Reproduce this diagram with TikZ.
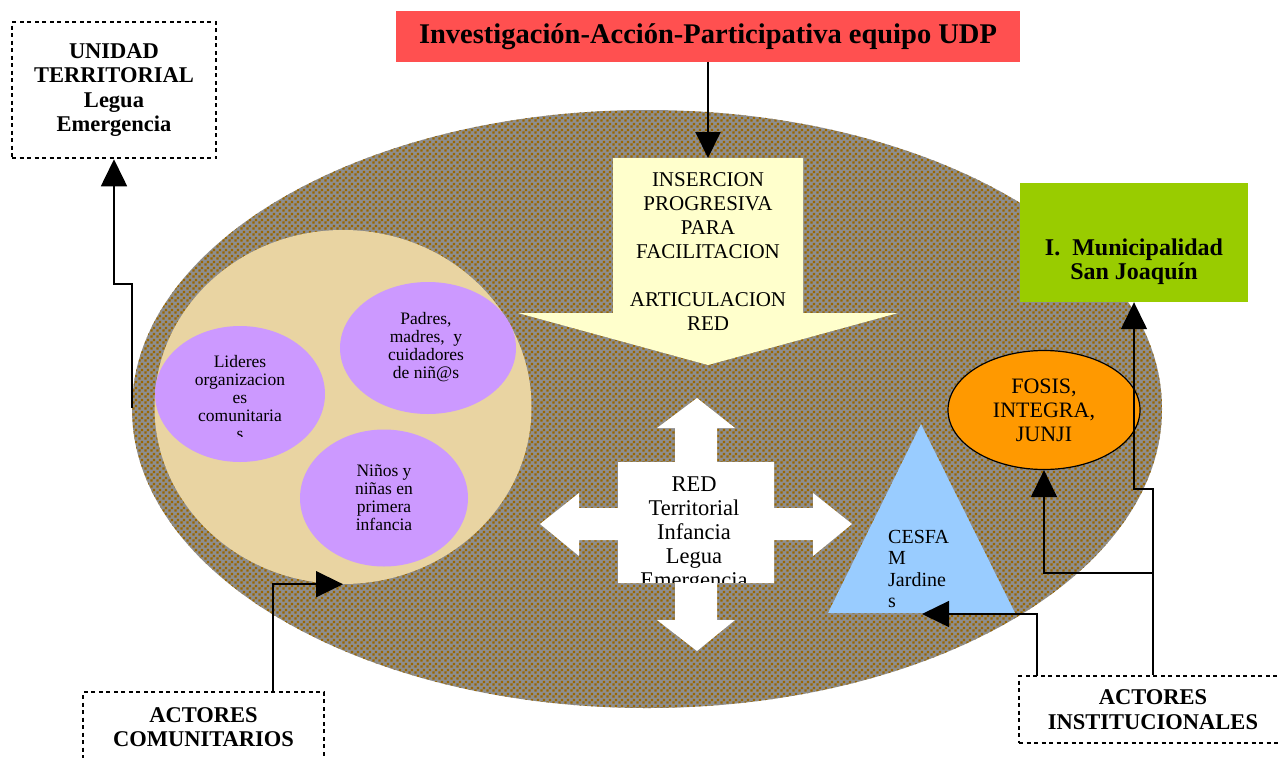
\documentclass[tikz,border=0pt]{standalone}
\usepackage{fontspec}
\setmainfont{Liberation Serif}
\usetikzlibrary{arrows.meta,shapes.geometric,patterns}
\pgfdeclarepatternformonly{bchecks}{\pgfqpoint{0pt}{0pt}}{\pgfqpoint{6pt}{6pt}}{\pgfqpoint{6pt}{6pt}}{%
  \pgfpathrectangle{\pgfqpoint{0.3pt}{0.3pt}}{\pgfqpoint{2.7pt}{2.7pt}}%
  \pgfpathrectangle{\pgfqpoint{3.3pt}{3.3pt}}{\pgfqpoint{2.7pt}{2.7pt}}%
  \pgfusepath{fill}}
\definecolor{udpred}{HTML}{FF5050}
\definecolor{yel}{HTML}{FFFFCC}
\definecolor{grn}{HTML}{99CC00}
\definecolor{org}{HTML}{FF9900}
\definecolor{lblue}{HTML}{99CCFF}
\definecolor{purp}{HTML}{CC99FF}
\definecolor{tanc}{HTML}{E9D4A2}
\definecolor{fieldgray}{HTML}{8E8E8E}
\definecolor{fieldbrown}{HTML}{996600}
\begin{document}
\begin{tikzpicture}[x=1pt,y=-1pt,
  dbox/.style={draw, dash pattern=on 4pt off 3.5pt, line width=2.5pt, inner sep=0pt, align=center, font=\bfseries\fontsize{22.5}{24.5}\selectfont},
  conn/.style={line width=1.6pt, -{Triangle[width=26pt,length=27pt]}},
  iconn/.style={line width=1.4pt, -{Triangle[width=26pt,length=27pt]}},
  pur/.style={ellipse, fill=purp, inner sep=0pt},
  ptext/.style={align=center, inner sep=0pt, font=\fontsize{17.5}{18}\selectfont},
  ytext/.style={align=center, inner sep=0pt, font=\fontsize{21}{24}\selectfont},
  rtext/.style={align=center, inner sep=0pt, font=\fontsize{22.5}{24}\selectfont}]
\useasboundingbox (0,0) rectangle (1278,758);
\clip (0,0) rectangle (1278,758);

% field ellipse
\fill[fieldgray] (647,409) ellipse [x radius=515, y radius=299];
\fill[pattern=bchecks, pattern color=fieldbrown] (647,409) ellipse [x radius=515, y radius=299];

% community circle
\node[ellipse, fill=tanc, minimum width=377pt, minimum height=354pt, inner sep=0pt] (comunidad) at (343,407) {};
\node[pur, minimum width=170pt, minimum height=136pt] (lideres) at (240,394) {};
\node[pur, minimum width=176pt, minimum height=132pt] (padres) at (428,348) {};
\node[pur, minimum width=168pt, minimum height=137pt] (ninos) at (384,498) {};
\begin{scope}
  \clip (150,300) rectangle (330,436);
  \node[ptext] (lidtxt) at (240,398) {Lideres\\organizacion\\es\\comunitaria\\s};
\end{scope}
\node[ptext] (padtxt) at (426,347) {Padres,\\madres,\ \ y\\cuidadores\\de niñ@s};
\node[ptext] (nintxt) at (384,498) {Niños y\\niñas en\\primera\\infancia};

% yellow arrow
\fill[yel] (613,158) -- (803,158) -- (803,313) -- (898,313) -- (708,365) -- (518,313) -- (613,313) -- cycle;
\coordinate (yeltop) at (708,158);
\node[ytext] (insercion) at (708,252) {INSERCION\\PROGRESIVA\\PARA\\FACILITACION\\[24pt]ARTICULACION\\RED};

% white four-way arrow
\fill[white] (697,398) -- (735,428) -- (717,428) -- (717,462) -- (774,462) -- (774,508) -- (813,508) -- (813,493) -- (852,524)
  -- (813,556) -- (813,540) -- (774,540) -- (774,583) -- (717,583) -- (717,620) -- (735,620) -- (697,651)
  -- (657,620) -- (675,620) -- (675,583) -- (618,583) -- (618,540) -- (579,540) -- (579,556) -- (540,524)
  -- (579,493) -- (579,508) -- (618,508) -- (618,462) -- (675,462) -- (675,428) -- (657,428) -- cycle;
\begin{scope}
  \clip (618,462) rectangle (774,582);
  \node[rtext] (redtxt) at (694,535) {RED\\Territorial\\Infancia\\Legua\\Emergencia};
\end{scope}

% CESFAM triangle
\fill[lblue] (921,424) -- (1015,613) -- (828,613) -- cycle;
\coordinate (cesfa) at (922,614);
\node[anchor=west, inner sep=0pt, align=left, font=\fontsize{20}{21.5}\selectfont] (cesfatxt) at (888,569) {CESFA\\M\\Jardine\\s};

% FOSIS ellipse
\node[ellipse, draw, line width=1.2pt, fill=org, minimum width=192pt, minimum height=119pt, inner sep=0pt, align=center, font=\fontsize{22}{24}\selectfont] (fosis) at (1044,410) {FOSIS,\\INTEGRA,\\JUNJI};

% top red box
\node[fill=udpred, minimum width=624pt, minimum height=51pt, inner sep=0pt, font=\bfseries\fontsize{28.5}{30}\selectfont] (udp) at (708,36.5) {Investigación-Acción-Participativa equipo UDP};

% municipality
\node[fill=grn, minimum width=228pt, minimum height=119pt, inner sep=0pt] (muni) at (1134,242.5) {};
\node[align=center, inner sep=0pt, font=\bfseries\fontsize{24}{24}\selectfont] (munitxt) at (1134,262) {I.\ \ Municipalidad\\San Joaquín};

% dashed boxes
\node[dbox, minimum width=204pt, minimum height=136pt] (unidad) at (114,90) {UNIDAD\\TERRITORIAL\\Legua\\Emergencia};
\node[dbox, minimum width=241pt, minimum height=70pt] (comun) at (203.5,727) {ACTORES\\COMUNITARIOS};
\node[dbox, minimum width=268pt, minimum height=67pt] (inst) at (1153,709.5) {ACTORES\\INSTITUCIONALES};

% connectors
\draw[line width=2pt, -{Triangle[width=25pt,length=26pt]}] (udp.south) -- (yeltop);
\coordinate (ut0) at (132,408);
\draw[conn] (ut0) -- (132,284) -| (unidad.south);
\coordinate (cc0) at (273,692);
\draw[conn] (cc0) |- (comunidad.south);
\coordinate (ai1) at (1037,676);
\draw[iconn] (ai1) |- (cesfa);
\draw[iconn] (inst.north) -- (1153,489) -| (muni.south);
\coordinate (ai3) at (1153,573);
\draw[iconn] (ai3) -| (fosis.south);
\end{tikzpicture}
\end{document}
